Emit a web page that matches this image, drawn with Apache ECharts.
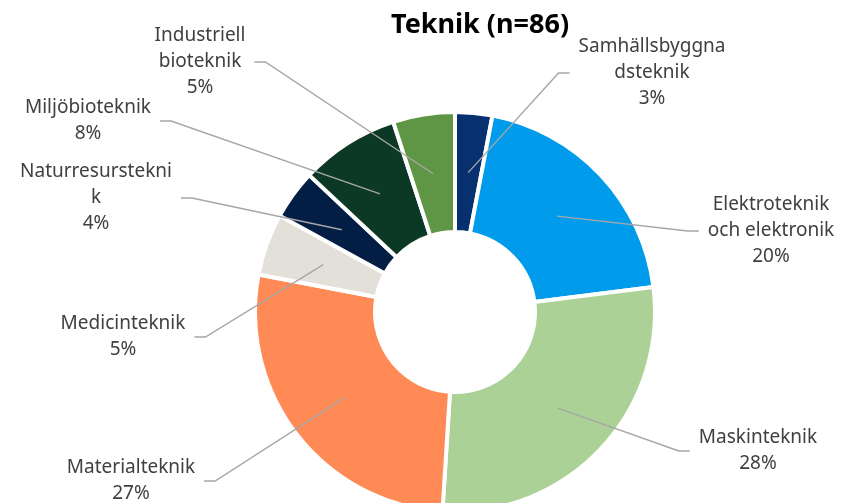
<!DOCTYPE html>
<html>
<head>
<meta charset="utf-8">
<script src="https://cdn.jsdelivr.net/npm/echarts@6/dist/echarts.min.js"></script>
<style>
  html, body { margin: 0; padding: 0; background: #fff; }
  #chart { width: 847px; height: 503px; }
</style>
</head>
<body>
<div id="chart"></div>
<script>
'use strict';

const categories = [
  'Samhällsbyggnadsteknik', 'Elektroteknik och elektronik', 'Maskinteknik',
  'Materialteknik', 'Medicinteknik', 'Naturresursteknik', 'Miljöbioteknik',
  'Industriell bioteknik'
];
// label text, wrapped the way the original wraps it
const labelNames = [
  'Samhällsbyggna\ndsteknik', 'Elektroteknik\noch elektronik', 'Maskinteknik',
  'Materialteknik', 'Medicinteknik', 'Naturresurstekni\nk', 'Miljöbioteknik',
  'Industriell\nbioteknik'
];
const shares = [3, 20, 28, 27, 5, 4, 8, 5];
const colors = ['#06306E', '#009CEB', '#ACD197', '#FF8A55', '#E2E0D8', '#031E45', '#0C3826', '#5F9645'];

// layout
const pieCenter = [455, 312];
const ringInner = 80;
const ringOuter = 200;
// centre of each label block
const labelPos = [[652, 73], [771, 231], [758, 451], [131, 481], [123, 337], [96, 198], [88, 121], [200, 62]];

const chart = echarts.init(document.getElementById('chart'));

function midRing(i) {
  const total = shares.reduce((a, b) => a + b, 0);
  let before = 0;
  for (let k = 0; k < i; k++) before += shares[k];
  const ang = (90 - 360 * (before + shares[i] / 2) / total) * Math.PI / 180;
  const r = (ringInner + ringOuter) / 2;
  return [pieCenter[0] + r * Math.cos(ang), pieCenter[1] - r * Math.sin(ang)];
}

const pieBase = {
  type: 'pie',
  silent: true,
  center: pieCenter,
  radius: [ringInner, ringOuter],
  startAngle: 90,
  clockwise: true,
  avoidLabelOverlap: false
};

const option = {
  animation: false,
  graphic: [{
    type: 'text',
    x: 480,
    y: 25,
    style: {
      text: 'Teknik (n=86)',
      fontFamily: 'Noto Sans',
      fontWeight: 'bold',
      fontSize: 27,
      fill: '#000',
      align: 'center',
      verticalAlign: 'middle'
    }
  }],
  series: [
    Object.assign({}, pieBase, {
      z: 2,
      itemStyle: { borderColor: '#fff', borderWidth: 4 },
      label: { show: false },
      labelLine: { show: false },
      data: categories.map((name, i) => ({
        name: name,
        value: shares[i],
        itemStyle: { color: colors[i] }
      }))
    }),
    // transparent copy on top so the leader lines cross the slices
    Object.assign({}, pieBase, {
      z: 3,
      itemStyle: { color: 'rgba(0,0,0,0)', borderWidth: 0 },
      label: {
        show: true,
        position: 'outside',
        formatter: p => labelNames[p.dataIndex] + '\n' + p.value + '%',
        fontFamily: 'Noto Sans',
        fontSize: 19,
        lineHeight: 26,
        color: '#404040',
        align: 'center'
      },
      labelLine: {
        show: true,
        length: 10,
        length2: 10,
        lineStyle: { color: '#A6A6A6', width: 1.4 }
      },
      labelLayout: function (params) {
        const i = params.dataIndex;
        const x = labelPos[i][0];
        const y = labelPos[i][1];
        const half = params.labelRect.width / 2;
        const right = x > pieCenter[0];
        const endX = right ? x - half - 9 : x + half + 9;
        const elbowX = right ? endX - 11 : endX + 11;
        return {
          x: x,
          y: y,
          align: 'center',
          verticalAlign: 'middle',
          labelLinePoints: [midRing(i), [elbowX, y], [endX, y]]
        };
      },
      data: categories.map((name, i) => ({ name: name, value: shares[i] }))
    })
  ]
};

chart.setOption(option);
</script>
</body>
</html>
